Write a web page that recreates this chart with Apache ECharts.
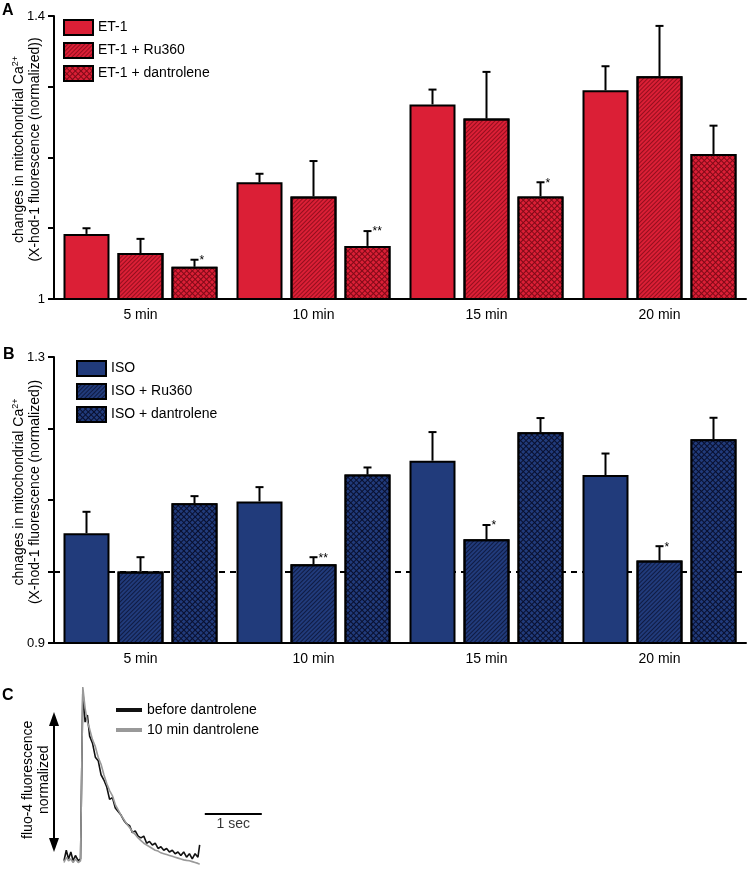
<!DOCTYPE html>
<html>
<head>
<meta charset="utf-8">
<script src="https://cdn.jsdelivr.net/npm/echarts@6/dist/echarts.min.js"></script>
<style>
  html, body { margin: 0; padding: 0; background: #fff; }
  #main { width: 750px; height: 871px; }
</style>
</head>
<body>
<div id="main"></div>
<script>
// ---- data ----
var categories = ['5 min', '10 min', '15 min', '20 min'];

// panel A (ET-1)
var etMean    = [1.092, 1.165, 1.275, 1.295];
var etErr     = [0.008, 0.012, 0.021, 0.034];
var etRuMean  = [1.065, 1.145, 1.255, 1.315];
var etRuErr   = [0.020, 0.050, 0.066, 0.071];
var etDanMean = [1.0455, 1.075, 1.145, 1.205];
var etDanErr  = [0.010, 0.021, 0.020, 0.040];
var etDanSig  = ['*', '**', '*', ''];
var yLabelsA  = ['1', '', '', '', '1.4'];

// panel B (ISO)
var isoMean    = [1.0535, 1.098, 1.155, 1.135];
var isoErr     = [0.030, 0.020, 0.040, 0.030];
var isoRuMean  = [1.000, 1.010, 1.045, 1.0154];
var isoRuErr   = [0.020, 0.010, 0.020, 0.020];
var isoRuSig   = ['', '**', '*', '*'];
var isoDanMean = [1.0954, 1.1355, 1.1946, 1.185];
var isoDanErr  = [0.010, 0.010, 0.020, 0.030];
var yLabelsB   = ['0.9', '', '', '', '1.3'];

// panel C (fluo-4 transient, time in sec, normalized amplitude)
var traceTime = [0, 0.04, 0.08, 0.12, 0.16, 0.2, 0.25, 0.29, 0.33, 0.37, 0.41, 0.45,
  0.5, 0.55, 0.6, 0.65, 0.7, 0.75, 0.8, 0.85, 0.9, 0.95, 1.0, 1.05, 1.1, 1.15, 1.2, 1.25,
  1.3, 1.35, 1.4, 1.45, 1.5, 1.55, 1.6, 1.65, 1.7, 1.75, 1.8, 1.85, 1.9, 1.95, 2.0, 2.05,
  2.1, 2.15, 2.2, 2.25, 2.3, 2.35, 2.38];
var beforeDan = [0.01, 0.07, 0.02, 0.06, 0.01, 0.04, 0.01, 0.02, 0.98, 0.80, 0.84, 0.72,
  0.68, 0.60, 0.58, 0.50, 0.47, 0.43, 0.36, 0.37, 0.31, 0.29, 0.27, 0.24, 0.22, 0.21, 0.17, 0.18,
  0.15, 0.14, 0.15, 0.11, 0.12, 0.10, 0.11, 0.08, 0.09, 0.07, 0.08, 0.06, 0.07, 0.05, 0.06, 0.04,
  0.06, 0.03, 0.05, 0.02, 0.05, 0.03, 0.10];
var afterDan = [0.00, 0.03, 0.01, 0.02, 0.00, 0.02, 0.00, 0.01, 1.00, 0.88, 0.80, 0.76,
  0.70, 0.66, 0.60, 0.56, 0.50, 0.45, 0.41, 0.38, 0.33, 0.30, 0.27, 0.245, 0.22, 0.20, 0.175, 0.16,
  0.14, 0.125, 0.11, 0.10, 0.09, 0.08, 0.07, 0.065, 0.055, 0.05, 0.045, 0.04, 0.035, 0.03, 0.025, 0.02,
  0.015, 0.012, 0.01, 0.005, 0.00, -0.005, -0.01];
var scaleBarTime = [2.47, 3.47];   // 1 sec
var scaleBarLevel = 0.276;

// ---- styles ----
var FONT = 'Liberation Sans, Arial, Helvetica, sans-serif';
var RED = '#DB1F36', BLUE = '#213B7B';
var BAR_W = 46, BAR_GAP = 8;

function hatch(dark) {
  return { symbol: 'rect', symbolSize: 1, color: dark, dashArrayX: [1, 0], dashArrayY: [1, 2], rotation: -Math.PI / 4 };
}
function cross(base, dark) {
  return { symbol: 'rect', symbolSize: 1, color: base, backgroundColor: dark, dashArrayX: [3, 1], dashArrayY: [3, 1], rotation: Math.PI / 4 };
}

function barSeries(name, idx, data, color, decal) {
  return {
    name: name, type: 'bar', xAxisIndex: idx, yAxisIndex: idx, data: data,
    barWidth: BAR_W, barGap: (BAR_GAP / BAR_W * 100) + '%', z: 2,
    itemStyle: { color: color, borderColor: '#000', borderWidth: 2, decal: decal }
  };
}

// error bars (upper only) + significance stars
function errSeries(idx, slot, means, errs, sigs) {
  return {
    type: 'custom', xAxisIndex: idx, yAxisIndex: idx, z: 3, silent: true,
    data: means.map(function (m, i) { return [i, m, m + errs[i]]; }),
    renderItem: function (params, api) {
      var base = api.coord([api.value(0), api.value(1)]);
      var top = api.coord([api.value(0), api.value(2)]);
      var x = base[0] + (slot - 1) * (BAR_W + BAR_GAP);
      var kids = [
        { type: 'line', shape: { x1: x, y1: base[1], x2: x, y2: top[1] }, style: { stroke: '#000', lineWidth: 2 } },
        { type: 'line', shape: { x1: x - 4, y1: top[1], x2: x + 4, y2: top[1] }, style: { stroke: '#000', lineWidth: 2 } }
      ];
      var s = sigs ? sigs[params.dataIndex] : '';
      if (s) {
        kids.push({ type: 'text', style: { text: s, x: x + 5, y: top[1] + 1, fill: '#000',
          font: '12px ' + FONT, textAlign: 'left', textVerticalAlign: 'middle' } });
      }
      return { type: 'group', children: kids };
    }
  };
}

function catAxis(idx) {
  return {
    type: 'category', gridIndex: idx, data: categories,
    axisLine: { lineStyle: { color: '#000', width: 2 } },
    axisTick: { length: 6, lineStyle: { color: '#000', width: 2 } },
    axisLabel: { color: '#000', fontSize: 14, fontFamily: FONT, margin: 9 }
  };
}

function valAxis(idx, min, max, labels, name) {
  return {
    type: 'value', gridIndex: idx, min: min, max: max, interval: 0.1,
    splitLine: { show: false },
    axisLine: { show: true, lineStyle: { color: '#000', width: 2 } },
    axisTick: { show: true, length: 6, lineStyle: { color: '#000', width: 2 } },
    axisLabel: { color: '#000', fontSize: 13, fontFamily: FONT, margin: 9,
      formatter: function (v, i) { return labels[i] || ''; } },
    name: name, nameLocation: 'middle', nameRotate: 90, nameGap: 11, nameMoveOverlap: false,
    nameTextStyle: {
      color: '#000', fontFamily: FONT, align: 'center', padding: [0, 0, 0, 16],
      rich: {
        a: { fontSize: 14, lineHeight: 16, fontFamily: FONT, color: '#000' },
        s: { fontSize: 9, verticalAlign: 'top', fontFamily: FONT, color: '#000' }
      }
    }
  };
}

var nameA = '{a|changes in mitochondrial Ca}{s|2+}\n{a|(X-hod-1 fluorescence (normalized))}';
var nameB = '{a|chnages in mitochondrial Ca}{s|2+}\n{a|(X-hod-1 fluorescence (normalized))}';

var chart = echarts.init(document.getElementById('main'));

var option = {
  animation: false,
  backgroundColor: '#fff',
  textStyle: { fontFamily: FONT },
  grid: [
    { left: 54, right: 4, top: 16, height: 283, outerBoundsMode: 'none' },
    { left: 54, right: 4, top: 357, height: 286, outerBoundsMode: 'none' },
    { left: 64, top: 687, width: 199.5, height: 175.5, outerBoundsMode: 'none' }
  ],
  xAxis: [
    catAxis(0),
    catAxis(1),
    { type: 'value', gridIndex: 2, min: 0, max: 3.5, show: false }
  ],
  yAxis: [
    valAxis(0, 1, 1.4, yLabelsA, nameA),
    valAxis(1, 0.9, 1.3, yLabelsB, nameB),
    { type: 'value', gridIndex: 2, min: 0, max: 1,
      axisLine: { show: false }, axisTick: { show: false }, axisLabel: { show: false }, splitLine: { show: false },
      name: 'fluo-4 fluorescence\nnormalized', nameLocation: 'middle', nameRotate: 90, nameGap: 12,
      nameMoveOverlap: false,
      nameTextStyle: { color: '#000', fontSize: 14, lineHeight: 16, fontFamily: FONT, align: 'center',
        padding: [0, 10, 0, 0] } }
  ],
  legend: [
    { data: ['ET-1', 'ET-1 + Ru360', 'ET-1 + dantrolene'], orient: 'vertical', left: 58, top: 14,
      icon: 'rect', itemWidth: 29, itemHeight: 15, itemGap: 6,
      itemStyle: { borderColor: '#000', borderWidth: 2 },
      textStyle: { color: '#000', fontSize: 14, lineHeight: 15, fontFamily: FONT } },
    { data: ['ISO', 'ISO + Ru360', 'ISO + dantrolene'], orient: 'vertical', left: 71, top: 355,
      icon: 'rect', itemWidth: 29, itemHeight: 15, itemGap: 6,
      itemStyle: { borderColor: '#000', borderWidth: 2 },
      textStyle: { color: '#000', fontSize: 14, lineHeight: 15, fontFamily: FONT } },
    { data: ['before dantrolene', '10 min dantrolene'], orient: 'vertical', left: 111, top: 698,
      icon: 'rect', itemWidth: 26, itemHeight: 4, itemGap: 6,
      textStyle: { color: '#000', fontSize: 14, lineHeight: 12, fontFamily: FONT } }
  ],
  series: [
    barSeries('ET-1', 0, etMean, RED, null),
    barSeries('ET-1 + Ru360', 0, etRuMean, RED, hatch('rgba(90,0,10,0.55)')),
    barSeries('ET-1 + dantrolene', 0, etDanMean, RED, cross(RED, 'rgba(90,0,10,0.7)')),
    errSeries(0, 0, etMean, etErr, null),
    errSeries(0, 1, etRuMean, etRuErr, null),
    errSeries(0, 2, etDanMean, etDanErr, etDanSig),

    barSeries('ISO', 1, isoMean, BLUE, null),
    barSeries('ISO + Ru360', 1, isoRuMean, BLUE, hatch('rgba(0,0,20,0.55)')),
    barSeries('ISO + dantrolene', 1, isoDanMean, BLUE, cross(BLUE, 'rgba(0,0,20,0.75)')),
    errSeries(1, 0, isoMean, isoErr, null),
    errSeries(1, 1, isoRuMean, isoRuErr, isoRuSig),
    errSeries(1, 2, isoDanMean, isoDanErr, null),
    { type: 'line', xAxisIndex: 1, yAxisIndex: 1, data: [], silent: true,
      markLine: { z: 1, silent: true, symbol: 'none', label: { show: false },
        lineStyle: { color: '#000', width: 2, type: [6, 5] }, data: [{ yAxis: 1 }] } },

    { name: 'before dantrolene', type: 'line', xAxisIndex: 2, yAxisIndex: 2, symbol: 'none', clip: false,
      data: traceTime.map(function (t, i) { return [t, beforeDan[i]]; }),
      lineStyle: { color: '#111', width: 1.6 }, itemStyle: { color: '#111' } },
    { name: '10 min dantrolene', type: 'line', xAxisIndex: 2, yAxisIndex: 2, symbol: 'none', clip: false,
      data: traceTime.map(function (t, i) { return [t, afterDan[i]]; }),
      lineStyle: { color: '#999', width: 1.6 }, itemStyle: { color: '#999' } },
    { type: 'line', xAxisIndex: 2, yAxisIndex: 2, symbol: 'none', silent: true,
      data: scaleBarTime.map(function (t) { return [t, scaleBarLevel]; }),
      lineStyle: { color: '#000', width: 2 } },
    { type: 'scatter', xAxisIndex: 2, yAxisIndex: 2, symbolSize: 0, silent: true,
      data: [[(scaleBarTime[0] + scaleBarTime[1]) / 2, scaleBarLevel]],
      label: { show: true, position: 'bottom', distance: 3, formatter: '1 sec',
        color: '#000', fontSize: 14, fontFamily: FONT } }
  ],
  graphic: [
    { type: 'text', left: 2, top: 3, style: { text: 'A', font: 'bold 16px ' + FONT, fill: '#000' } },
    { type: 'text', left: 3, top: 347, style: { text: 'B', font: 'bold 16px ' + FONT, fill: '#000' } },
    { type: 'text', left: 2, top: 688, style: { text: 'C', font: 'bold 16px ' + FONT, fill: '#000' } },
    // double-headed amplitude arrow
    { type: 'line', shape: { x1: 54, y1: 722, x2: 54, y2: 842 }, style: { stroke: '#000', lineWidth: 2 } },
    { type: 'polygon', shape: { points: [[54, 712], [49, 726], [59, 726]] }, style: { fill: '#000' } },
    { type: 'polygon', shape: { points: [[54, 852], [49, 838], [59, 838]] }, style: { fill: '#000' } }
  ]
};

chart.setOption(option);
</script>
</body>
</html>
